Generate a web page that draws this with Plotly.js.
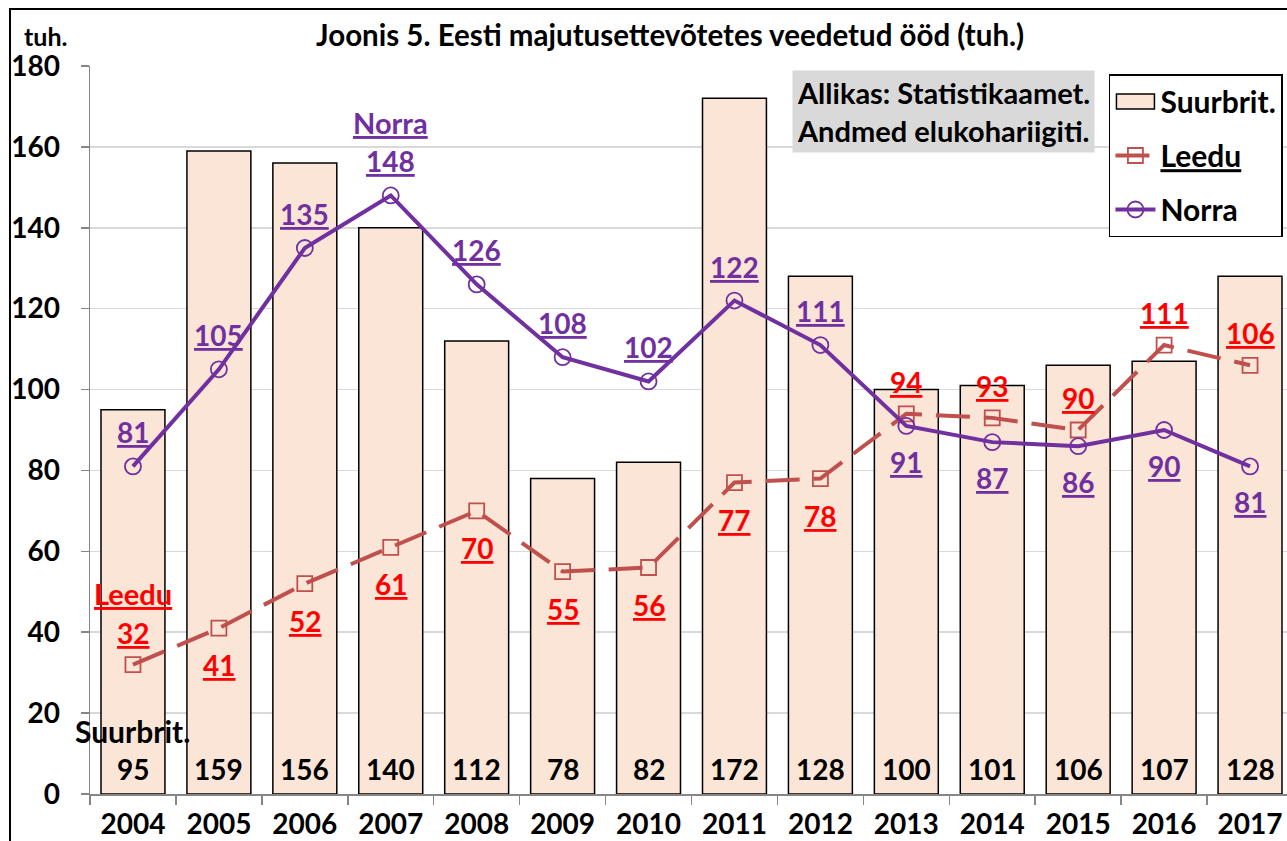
<!DOCTYPE html>
<html><head><meta charset="utf-8">
<script src="https://cdn.plot.ly/plotly-3.0.1.min.js"></script>
<style>html,body{margin:0;padding:0;overflow:hidden;background:#fff}#chart{width:1300px;height:841px}</style>
</head><body><div id="chart"></div>
<script>
const years = ['2004','2005','2006','2007','2008','2009','2010','2011','2012','2013','2014','2015','2016','2017'];
const suurbrit = [95,159,156,140,112,78,82,172,128,100,101,106,107,128];
const leedu = [32,41,52,61,70,55,56,77,78,94,93,90,111,106];
const norra = [81,105,135,148,126,108,102,122,111,91,87,86,90,81];
const seriesNames = ['Suurbrit.','Leedu','Norra'];
const chartTitle = 'Joonis 5. Eesti majutusettevõtetes veedetud ööd (tuh.)';
const unitLabel = 'tuh.';
const sourceNote = ['Allikas: Statistikaamet.','Andmed elukohariigiti.'];

const FONT = 'Lato, "Open Sans", sans-serif';
const PURPLE = '#7030A0';
const RED_LINE = '#C0504D';
const RED_TXT = '#FF0000';
const LBL = 28;

const traces = [
  {type:'bar', name:seriesNames[0], x:years, y:suurbrit, legendgroup:'a',
   marker:{color:'#FBE5D6', line:{color:'#000', width:1.5}}},
  {type:'scatter', mode:'lines+markers', name:'<u>'+seriesNames[1]+'</u>', x:years, y:leedu, legendgroup:'b',
   line:{color:RED_LINE, width:4, dash:'34px,14px'},
   marker:{symbol:'square-open', size:15, color:RED_LINE, line:{width:1.8, color:RED_LINE}}},
  {type:'scatter', mode:'lines+markers', name:seriesNames[2], x:years, y:norra, legendgroup:'c',
   line:{color:PURPLE, width:4},
   marker:{symbol:'circle-open', size:16, color:PURPLE, line:{width:1.8, color:PURPLE}}}
];

const ann = [];
function f(size,color){return {family:FONT, size:size, color:color, weight:'bold'};}
years.forEach((yr,i)=>{
  ann.push({x:i, y:0, yshift:25, text:String(suurbrit[i]), showarrow:false, font:f(LBL,'#000')});
  const nAbove = i===0 ? true : norra[i] > leedu[i];
  const lAbove = i===0 ? true : leedu[i] > norra[i];
  ann.push({x:i, y:norra[i], yshift: nAbove ? 34 : -36, text:'<u>'+norra[i]+'</u>', showarrow:false, font:f(LBL,PURPLE)});
  ann.push({x:i, y:leedu[i], yshift: lAbove ? 32 : -37, text:'<u>'+leedu[i]+'</u>', showarrow:false, font:f(LBL,RED_TXT)});
});
ann.push({x:0, y:0, yshift:63, text:seriesNames[0], showarrow:false, font:f(30,'#000')});
ann.push({x:0, y:leedu[0], yshift:71, text:'<u>'+seriesNames[1]+'</u>', showarrow:false, font:f(29,RED_TXT)});
ann.push({x:3, y:norra[3], yshift:73, text:'<u>'+seriesNames[2]+'</u>', showarrow:false, font:f(29,PURPLE)});
ann.push({xref:'paper', yref:'paper', x:0.482, y:1.0426, xanchor:'center', yanchor:'middle', text:chartTitle, showarrow:false, font:f(29.5,'#000')});
ann.push({xref:'paper', yref:'paper', x:-0.0374, y:1.0412, xanchor:'center', yanchor:'middle', text:unitLabel, showarrow:false, font:f(25,'#000')});
ann.push({xref:'paper', yref:'paper', x:0.5835, y:0.9945, xanchor:'left', yanchor:'top', align:'left',
  text:sourceNote.join('<br>'), showarrow:false, bgcolor:'#D9D9D9', borderpad:4, font:f(29,'#000')});

const layout = {
  width:1300, height:841,
  margin:{l:90, r:7, t:66, b:47},
  paper_bgcolor:'#fff', plot_bgcolor:'#fff',
  font:{family:FONT, color:'#000', weight:'bold'},
  showlegend:true,
  legend:{x:0.847, y:0.989, xanchor:'left', yanchor:'top', bgcolor:'#fff', bordercolor:'#000', borderwidth:1.5,
    font:{family:FONT, size:30, color:'#000', weight:'bold'}, traceorder:'grouped', tracegroupgap:12, itemwidth:40},
  bargap:0.256,
  xaxis:{type:'category', range:[-0.5,13.5], autorange:false, tickson:'boundaries', ticks:'outside', ticklen:9, tickcolor:'#868686', tickwidth:1.5,
    showline:true, linecolor:'#868686', linewidth:1.5, showgrid:false,
    tickfont:{family:FONT, size:28, color:'#000', weight:'bold'}, ticklabelstandoff:5},
  yaxis:{range:[0,180], autorange:false, dtick:20, ticks:'outside', ticklen:8, tickcolor:'#868686', tickwidth:1.5,
    showline:true, linecolor:'#868686', linewidth:1.5, gridcolor:'#D9D9D9', gridwidth:1.5, zeroline:false,
    tickfont:{family:FONT, size:28, color:'#000', weight:'bold'}, ticklabelstandoff:15},
  annotations:ann,
  shapes:[{type:'rect', xref:'paper', yref:'paper', x0:-0.0665, x1:1.3, y0:-0.4, y1:1.0783, line:{color:'#000', width:2}}]
};
Plotly.newPlot('chart', traces, layout, {displayModeBar:false, staticPlot:true}).then(gd=>{
  // widen the bar legend swatch to a rectangle like the original
  const first = gd.querySelector('.legend .traces .legendpoints path');
  if (first) first.setAttribute('d','M-19,7.5H19V-7.5H-19Z');
});
</script></body></html>
